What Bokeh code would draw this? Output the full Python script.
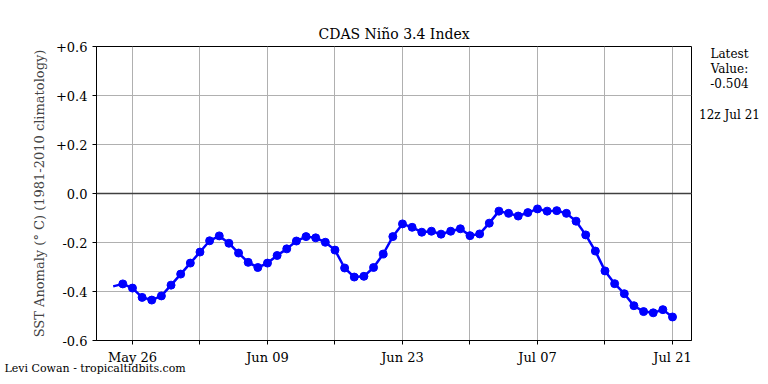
import pandas as pd
from bokeh.plotting import figure
from bokeh.models import FixedTicker, Label, Span, Range1d
from bokeh.embed import file_html
from bokeh.resources import INLINE

# Daily values (12z), 24 May -> 21 Jul
start_date = "2024-05-24"
end_date = "2024-07-21"
nino34 = [-0.379, -0.369, -0.386, -0.424, -0.435, -0.418, -0.374, -0.329, -0.284, -0.239,
          -0.193, -0.173, -0.203, -0.243, -0.281, -0.302, -0.284, -0.253, -0.226, -0.194,
          -0.176, -0.181, -0.199, -0.231, -0.304, -0.341, -0.338, -0.302, -0.247, -0.176,
          -0.124, -0.138, -0.158, -0.154, -0.166, -0.154, -0.144, -0.172, -0.165, -0.121,
          -0.072, -0.081, -0.092, -0.078, -0.063, -0.072, -0.070, -0.081, -0.113, -0.169,
          -0.235, -0.316, -0.368, -0.409, -0.458, -0.482, -0.487, -0.474, -0.504]
tick_dates = ["2024-05-26", "2024-06-02", "2024-06-09", "2024-06-16", "2024-06-23",
              "2024-06-30", "2024-07-07", "2024-07-14", "2024-07-21"]
tick_labels = ["May 26", "", "Jun 09", "", "Jun 23", "", "Jul 07", "", "Jul 21"]
y_ticks = [-0.6, -0.4, -0.2, 0.0, 0.2, 0.4, 0.6]
y_labels = ["-0.6", "-0.4", "-0.2", "0.0", "+0.2", "+0.4", "+0.6"]
latest_value = "-0.504"
latest_time = "12z Jul 21"

dates = pd.date_range(start_date, end_date, freq="D")
t_end = pd.Timestamp(end_date)
x = [(d - t_end).days for d in dates]
tx = [(pd.Timestamp(d) - t_end).days for d in tick_dates]

FONT = "DejaVu Serif"

p = figure(width=766, height=380, output_backend="svg", toolbar_location=None,
           x_range=Range1d(-59.73, 1.97), y_range=Range1d(-0.6, 0.6),
           min_border_left=96, min_border_right=75, min_border_top=46, min_border_bottom=37,
           title="CDAS Niño 3.4 Index")
p.title.text_font = FONT
p.title.text_font_size = "14px"
p.title.text_font_style = "normal"
p.title.align = "center"
p.title.text_color = "black"

p.outline_line_color = "black"
p.outline_line_width = 1
p.outline_line_alpha = 1

p.xaxis.ticker = FixedTicker(ticks=tx)
p.xaxis.major_label_overrides = {t: l for t, l in zip(tx, tick_labels)}
p.yaxis.ticker = FixedTicker(ticks=y_ticks)
p.yaxis.major_label_overrides = {t: l for t, l in zip(y_ticks, y_labels)}
for ax in (p.xaxis, p.yaxis):
    ax.major_label_text_font = FONT
    ax.major_label_text_font_size = "13px"
    ax.major_label_text_color = "black"
    ax.minor_tick_line_color = None
    ax.major_tick_in = 0
    ax.major_tick_out = 4
    ax.major_tick_line_color = "black"
    ax.axis_line_color = "black"
p.yaxis.axis_label = "SST Anomaly (° C) (1981-2010 climatology)"
p.yaxis.axis_label_text_font = FONT
p.yaxis.axis_label_text_font_size = "13px"
p.yaxis.axis_label_text_font_style = "normal"
p.yaxis.axis_label_standoff = 6

p.grid.grid_line_color = "#b0b0b0"
p.grid.grid_line_width = 1

p.add_layout(Span(location=0, dimension="width", line_color="#404040", line_width=1.5))

p.line(x, nino34, line_color="blue", line_width=2.5)
p.scatter(x[1:], nino34[1:], size=8, fill_color="blue", line_color="blue")

# side note in the right panel (screen px from the panel's lower-left corner)
note = "Latest\nValue:\n" + latest_value + "\n\n" + latest_time
p.add_layout(Label(x=38, y=294, x_units="screen", y_units="screen", text=note,
                   text_align="center", text_baseline="top", text_line_height=1.1,
                   text_font=FONT, text_font_size="12px", text_color="black"), "right")

# credit line in the bottom panel
p.add_layout(Label(x=-92, y=12, x_units="screen", y_units="screen",
                   text="Levi Cowan - tropicaltidbits.com",
                   text_align="left", text_baseline="middle",
                   text_font=FONT, text_font_size="11px", text_color="black"), "below")

open("out.html", "w").write(file_html(p, INLINE))
